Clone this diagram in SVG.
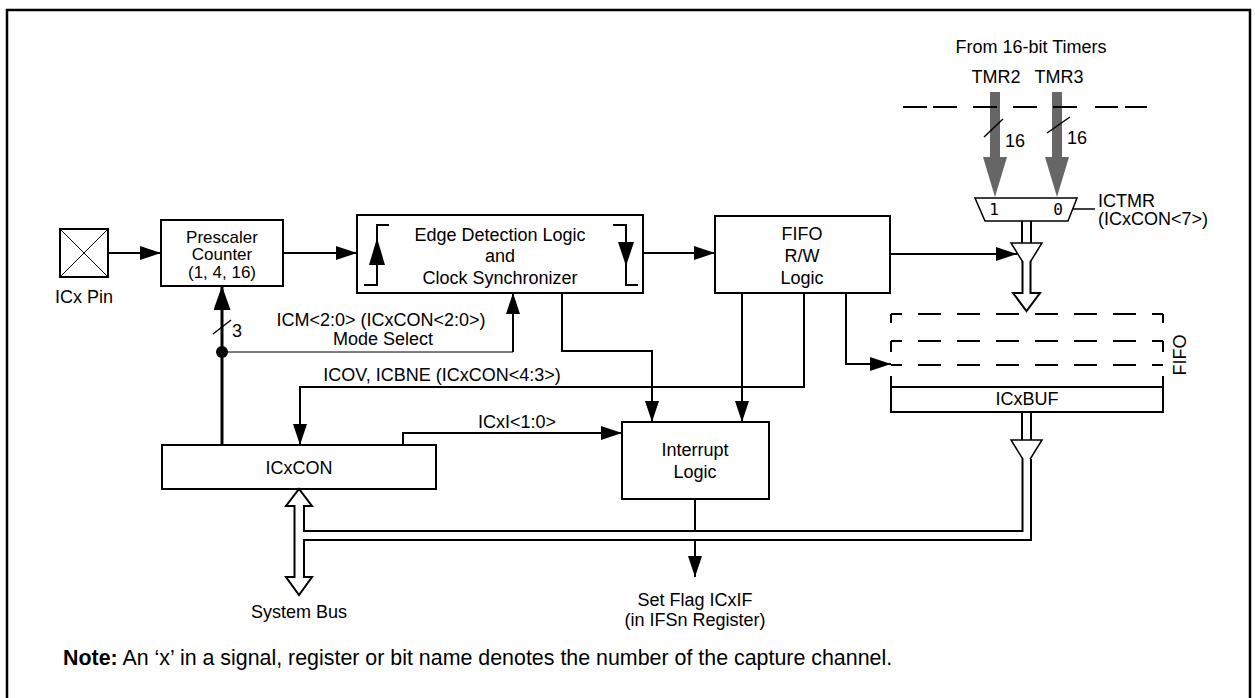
<svg xmlns="http://www.w3.org/2000/svg" width="1255" height="698" viewBox="0 0 1255 698">
<style>
text{font-family:"Liberation Sans",Arial,sans-serif;font-size:18px;fill:#000}
.m{text-anchor:middle}
.sm{font-size:17px}
.box{fill:#fff;stroke:#000;stroke-width:2}
.ln{fill:none;stroke:#000;stroke-width:2}
.bus{fill:#fff;stroke:#000;stroke-width:2}
.dash{fill:none;stroke:#000;stroke-width:2;stroke-dasharray:23 16;stroke-dashoffset:12}
.mono{font-family:"DejaVu Sans Mono","Liberation Mono",monospace;font-size:16px}
</style>
<defs>
<marker id="ah" viewBox="0 0 21 14" markerWidth="21" markerHeight="14" refX="21" refY="7" orient="auto" markerUnits="userSpaceOnUse">
<path d="M0,0 L21,7 L0,14 z" fill="#000"/>
</marker>
<marker id="ahb" viewBox="0 0 24 17" markerWidth="24" markerHeight="17" refX="24" refY="8.5" orient="auto" markerUnits="userSpaceOnUse">
<path d="M0,0 L24,8.5 L0,17 z" fill="#000"/>
</marker>
</defs>
<rect x="7" y="10" width="1243" height="700" fill="#fff" stroke="#000" stroke-width="2.5"/>

<g id="timers">
<text class="m" x="1031" y="53">From 16-bit Timers</text>
<text class="m" x="996" y="83">TMR2</text>
<text class="m" x="1059" y="83">TMR3</text>
<rect x="990" y="92" width="10" height="66" fill="#666"/>
<polygon points="983,157 1007,157 995,197" fill="#666"/>
<rect x="1052" y="92" width="10" height="66" fill="#666"/>
<polygon points="1045,157 1069,157 1057,197" fill="#666"/>
<path d="M903,107h24M933,107h24M973,107h24M1013,107h24M1053,107h24M1095,107h23M1125,107h22" stroke="#000" stroke-width="2"/>
<path d="M984,137L1003,119M1047,133L1070,117" stroke="#000" stroke-width="1.5"/>
<text x="1005" y="147">16</text>
<text x="1067" y="144">16</text>
</g>

<g id="mux">
<polygon points="975,198 1077,198 1068,221 985,221" fill="#fff" stroke="#000" stroke-width="1.5"/>
<text class="mono m" x="994" y="215">1</text>
<text class="mono m" x="1058" y="215">0</text>
<path d="M1073,209H1095" stroke="#000" stroke-width="1.5"/>
<text x="1098" y="207">ICTMR</text>
<text x="1098" y="225">(ICxCON&lt;7&gt;)</text>
</g>

<g id="icx-pin">
<rect x="60" y="229" width="48" height="48" class="box"/>
<path d="M60,229L108,277M108,229L60,277" stroke="#000" stroke-width="1"/>
<text class="m" x="84" y="303">ICx Pin</text>
</g>

<g id="prescaler">
<rect x="161" y="220" width="122" height="66" class="box"/>
<text class="m sm" x="222" y="243">Prescaler</text>
<text class="m sm" x="222" y="260">Counter</text>
<text class="m sm" x="222" y="278">(1, 4, 16)</text>
</g>

<g id="edge">
<rect x="357" y="215" width="286" height="78" class="box"/>
<path d="M364,285H377V225H389" class="ln"/>
<polygon points="369,265 385,265 377,238" fill="#000"/>
<path d="M613,225H626V285H638" class="ln"/>
<polygon points="618,242 634,242 626,266" fill="#000"/>
<text class="m" x="500" y="241">Edge Detection Logic</text>
<text class="m" x="500" y="262">and</text>
<text class="m" x="500" y="284">Clock Synchronizer</text>
</g>

<g id="fifo-logic">
<rect x="715" y="216" width="175" height="77" class="box"/>
<text class="m" x="802" y="240">FIFO</text>
<text class="m" x="802" y="262">R/W</text>
<text class="m" x="802" y="284">Logic</text>
</g>

<g id="fifo-buffer">
<path d="M891,314H1163M891,341H1163M891,365H1163" class="dash"/>
<path d="M891,314V323M891,341V352M891,376V387M1163,314V323M1163,341V352M1163,376V387" class="ln"/>
<rect x="891" y="387" width="272" height="25" class="box"/>
<text class="m" x="1027" y="405">ICxBUF</text>
<text class="m" transform="translate(1186,355) rotate(-90)">FIFO</text>
</g>

<g id="interrupt">
<rect x="622" y="422" width="147" height="77" class="box"/>
<text class="m" x="695" y="456">Interrupt</text>
<text class="m" x="695" y="478">Logic</text>
</g>

<g id="icxcon">
<rect x="162" y="445" width="274" height="44" class="box"/>
<text class="m" x="299" y="474">ICxCON</text>
</g>

<g id="connectors">
<path d="M108,253H161" class="ln" marker-end="url(#ah)"/>
<path d="M283,253H357" class="ln" marker-end="url(#ah)"/>
<path d="M643,253H715" class="ln" marker-end="url(#ah)"/>
<path d="M890,254H1017" class="ln" marker-end="url(#ah)"/>
<path d="M222,445V286" fill="none" stroke="#000" stroke-width="3" marker-end="url(#ahb)"/>
<path d="M213,334L231,320" stroke="#000" stroke-width="1.5"/>
<text x="232" y="337">3</text>
<path d="M222,352H513" stroke="#000" stroke-width="1.2"/>
<path d="M513,352V293" class="ln" marker-end="url(#ah)"/>
<circle cx="222" cy="352" r="6" fill="#000"/>
<path d="M562,293V351H652V422" class="ln" marker-end="url(#ah)"/>
<path d="M742,293V422" class="ln" marker-end="url(#ah)"/>
<path d="M804,293V387H300V445" class="ln" marker-end="url(#ah)"/>
<path d="M846,293V364H891" class="ln" marker-end="url(#ah)"/>
<path d="M403,445V433H622" class="ln" marker-end="url(#ah)"/>
<path d="M695,499V577" class="ln" marker-end="url(#ah)"/>
<path d="M1022,221V243M1031,221V243" class="ln"/>
<polygon points="1011,243 1042,243 1026.5,268" fill="#fff" stroke="#000" stroke-width="1.5"/>
<path d="M1022.5,261V293H1013L1026.5,311L1040,293H1030.5V261" class="bus"/>
<path d="M1022,412V440M1031,412V440" class="ln"/>
<polygon points="1011,440 1042,440 1026.5,465" fill="#fff" stroke="#000" stroke-width="1.5"/>
<path d="M1022.5,459V531H304V506H312L299,489L286,506H294.5V577H286L299,595L312,577H304V540H1031V459" class="bus"/>
<text class="m" x="381" y="326">ICM&lt;2:0&gt; (ICxCON&lt;2:0&gt;)</text>
<text class="m" x="383" y="345">Mode Select</text>
<text class="m" x="442" y="381">ICOV, ICBNE (ICxCON&lt;4:3&gt;)</text>
<text class="m" x="517" y="428">ICxI&lt;1:0&gt;</text>
<text class="m" x="695" y="606">Set Flag ICxIF</text>
<text class="m" x="695" y="626">(in IFSn Register)</text>
<text class="m" x="299" y="618">System Bus</text>
</g>

<text x="63" y="665" style="font-size:21.4px"><tspan font-weight="bold">Note:</tspan> An ‘x’ in a signal, register or bit name denotes the number of the capture channel.</text>
</svg>
